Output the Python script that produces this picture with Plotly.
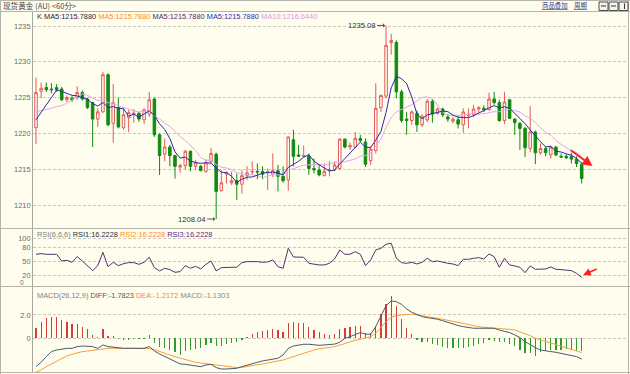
import plotly.graph_objects as go
import pandas as pd

# ---------------- data ----------------
opens = [1220.8, 1225.9, 1226.4, 1226.2, 1226.4, 1226.2, 1224.7, 1224.9, 1225.0, 1225.7,
         1224.8, 1224.3, 1222.0, 1223.0, 1228.2, 1221.4, 1223.6, 1220.8, 1222.2, 1222.7,
         1222.8, 1221.9, 1222.7, 1224.8, 1219.8, 1217.1, 1218.1, 1216.9, 1215.3, 1215.5,
         1217.5, 1215.4, 1215.4, 1214.7, 1216.1, 1217.1, 1212.0, 1214.3, 1213.1, 1213.4,
         1212.9, 1214.1, 1214.6, 1214.7, 1214.7, 1214.5, 1214.3, 1214.8, 1214.0, 1213.5,
         1219.1, 1217.0, 1216.8, 1216.8, 1215.1, 1214.9, 1214.1, 1214.8, 1214.9, 1215.1,
         1219.2, 1218.1, 1218.1, 1219.3, 1218.8, 1216.2, 1217.6, 1223.6, 1225.2, 1232.7,
         1232.7, 1225.8, 1222.0, 1221.8, 1222.8, 1221.2, 1221.9, 1224.5, 1222.8, 1223.4,
         1222.3, 1221.7, 1221.9, 1221.2, 1222.5, 1222.6, 1223.4, 1223.5, 1223.3, 1224.8,
         1224.3, 1221.8, 1224.7, 1222.0, 1221.4, 1220.7, 1217.9, 1220.2, 1217.3, 1217.9,
         1217.0, 1218.1, 1216.8, 1216.8, 1216.8, 1216.4, 1215.7]
highs = [1227.8, 1227.1, 1227.1, 1227.0, 1226.9, 1226.5, 1225.3, 1225.3, 1226.6, 1226.0,
         1225.0, 1224.4, 1223.5, 1228.6, 1228.4, 1226.9, 1225.0, 1223.6, 1223.3, 1223.4,
         1223.0, 1223.5, 1225.8, 1225.0, 1220.0, 1219.3, 1218.4, 1217.0, 1215.8, 1217.7,
         1217.6, 1216.3, 1215.6, 1216.4, 1218.0, 1217.3, 1214.9, 1214.7, 1214.7, 1214.4,
         1214.9, 1215.4, 1216.1, 1215.8, 1215.4, 1215.1, 1217.2, 1215.6, 1215.4, 1219.6,
         1220.5, 1218.4, 1218.3, 1217.2, 1216.5, 1215.6, 1215.8, 1216.1, 1216.1, 1219.3,
         1219.3, 1218.7, 1220.2, 1219.8, 1219.3, 1218.2, 1227.0, 1225.4, 1235.08, 1233.9,
         1233.0, 1226.1, 1223.0, 1223.2, 1223.2, 1222.7, 1224.8, 1224.8, 1223.6, 1223.6,
         1222.7, 1222.3, 1222.4, 1223.5, 1223.5, 1224.0, 1223.8, 1223.9, 1225.7, 1225.8,
         1224.7, 1225.8, 1224.8, 1222.1, 1221.6, 1220.9, 1223.8, 1220.4, 1218.6, 1218.2,
         1218.3, 1218.2, 1217.2, 1217.1, 1217.3, 1216.8, 1216.0]
lows = [1218.5, 1224.9, 1225.8, 1225.6, 1225.8, 1224.5, 1224.4, 1224.4, 1224.7, 1224.6,
        1223.4, 1218.1, 1220.9, 1222.9, 1221.0, 1218.7, 1220.7, 1220.5, 1220.2, 1221.5,
        1221.6, 1221.3, 1222.3, 1219.5, 1214.2, 1216.1, 1215.4, 1213.7, 1214.5, 1214.9,
        1214.7, 1214.9, 1214.7, 1214.5, 1215.8, 1208.04, 1211.9, 1213.0, 1212.8, 1210.7,
        1211.6, 1213.5, 1214.2, 1213.6, 1213.6, 1212.1, 1213.9, 1211.9, 1213.1, 1212.0,
        1215.4, 1216.7, 1216.6, 1214.2, 1214.4, 1214.0, 1214.0, 1214.0, 1214.7, 1214.9,
        1217.9, 1217.7, 1217.9, 1218.8, 1215.3, 1215.6, 1217.2, 1223.0, 1224.9, 1231.0,
        1224.9, 1221.5, 1219.8, 1221.2, 1220.2, 1220.9, 1221.6, 1221.5, 1222.6, 1222.3,
        1221.6, 1221.4, 1220.7, 1220.1, 1220.7, 1222.3, 1222.9, 1223.0, 1223.2, 1224.0,
        1221.6, 1221.3, 1222.0, 1219.8, 1217.7, 1216.7, 1217.4, 1215.7, 1217.0, 1216.8,
        1216.5, 1216.8, 1216.6, 1216.4, 1215.8, 1215.3, 1213.0]
closes = [1225.7, 1226.3, 1226.1, 1226.1, 1226.1, 1224.7, 1225.0, 1224.7, 1225.7, 1224.8,
          1223.6, 1222.0, 1223.0, 1228.2, 1221.2, 1224.3, 1220.9, 1222.6, 1222.9, 1222.8,
          1222.0, 1223.3, 1224.7, 1219.8, 1216.9, 1218.1, 1216.9, 1215.4, 1215.5, 1217.5,
          1215.4, 1215.9, 1214.8, 1215.9, 1217.2, 1211.9, 1213.1, 1214.5, 1213.4, 1212.9,
          1214.1, 1214.5, 1214.7, 1214.6, 1214.3, 1214.6, 1214.8, 1214.0, 1213.4, 1219.5,
          1216.8, 1216.8, 1216.9, 1215.1, 1214.9, 1214.2, 1214.7, 1214.9, 1215.6, 1219.2,
          1218.1, 1218.3, 1219.3, 1219.0, 1215.7, 1217.8, 1223.5, 1225.3, 1232.3, 1233.0,
          1225.8, 1221.8, 1221.8, 1223.0, 1221.2, 1222.4, 1224.5, 1222.7, 1223.4, 1222.6,
          1222.0, 1222.0, 1221.3, 1223.0, 1222.7, 1223.4, 1223.6, 1223.3, 1224.8, 1224.3,
          1221.8, 1224.4, 1222.1, 1221.5, 1220.7, 1218.0, 1220.2, 1217.3, 1217.9, 1217.3,
          1218.1, 1217.0, 1216.7, 1216.6, 1216.4, 1215.8, 1213.7]
# closes before the first visible bar (read back from the MA lines' starting levels)
prior_closes = [1224.8, 1224.5, 1224.0, 1223.8, 1223.4, 1221.5, 1220.5, 1221.0, 1220.8]

rsi = [65.7, 67.1, 65.7, 65.7, 65.7, 51.4, 52.9, 48.6, 60.7, 51.4,
       41.4, 30.7, 41.4, 70.0, 39.3, 48.6, 41.4, 45.7, 47.9, 47.9,
       44.3, 48.6, 59.3, 37.1, 30.0, 35.7, 32.9, 27.1, 28.6, 41.4,
       35.7, 40.0, 34.3, 44.3, 51.4, 30.0, 37.1, 37.9, 37.9, 37.9,
       47.9, 50.0, 50.7, 50.0, 48.6, 49.3, 53.6, 39.3, 35.7, 78.6,
       60.0, 60.0, 59.3, 46.4, 44.3, 42.9, 42.9, 46.4, 55.7, 75.0,
       65.7, 65.7, 71.4, 65.7, 41.4, 53.6, 75.0, 78.6, 87.1, 89.3,
       57.1, 47.9, 46.4, 48.6, 45.0, 48.6, 57.1, 50.0, 51.4, 48.6,
       46.4, 45.0, 41.4, 55.0, 55.0, 57.1, 58.6, 55.7, 66.4, 60.7,
       37.9, 57.1, 42.9, 40.7, 37.9, 26.4, 40.7, 33.6, 34.3, 34.3,
       38.6, 33.6, 32.9, 32.1, 30.7, 25.0, 16.2]

diff = [-2.43, -2.06, -1.57, -1.14, -1.0, -0.91, -0.86, -0.86, -0.71, -0.66,
        -0.71, -0.71, -0.86, -0.57, -0.71, -0.77, -0.86, -0.86, -0.86, -0.86,
        -0.86, -0.86, -0.71, -1.09, -1.34, -1.57, -1.77, -2.0, -2.2, -2.23,
        -2.29, -2.37, -2.43, -2.29, -2.23, -2.51, -2.63, -2.63, -2.63, -2.57,
        -2.43, -2.29, -2.14, -2.06, -1.94, -1.86, -1.77, -1.71, -1.43, -0.86,
        -0.66, -0.57, -0.51, -0.51, -0.57, -0.6, -0.57, -0.55, -0.5, -0.34,
        0.0, 0.14, 0.34, 0.49, 0.36, 0.34, 1.0, 1.86, 2.8, 3.2,
        3.14, 2.91, 2.51, 2.23, 2.06, 1.86, 1.77, 1.71, 1.63, 1.51,
        1.37, 1.2, 1.09, 1.0, 0.91, 0.86, 0.86, 0.86, 0.86, 0.86,
        0.71, 0.63, 0.49, 0.29, 0.06, -0.29, -0.57, -0.8, -1.0, -1.09,
        -1.14, -1.2, -1.29, -1.37, -1.43, -1.57, -1.78]
dea = [-2.9, -2.71, -2.43, -2.2, -1.94, -1.71, -1.51, -1.37, -1.23, -1.14,
       -1.09, -1.03, -1.0, -0.91, -0.86, -0.86, -0.86, -0.86, -0.86, -0.86,
       -0.86, -0.86, -0.86, -0.97, -1.14, -1.29, -1.43, -1.57, -1.71, -1.86,
       -1.94, -2.06, -2.11, -2.17, -2.2, -2.29, -2.34, -2.4, -2.46, -2.51,
       -2.49, -2.43, -2.37, -2.29, -2.2, -2.11, -2.0, -1.94, -1.86, -1.71,
       -1.57, -1.43, -1.29, -1.1, -1.0, -0.9, -0.86, -0.78, -0.71, -0.55,
       -0.45, -0.3, -0.2, -0.09, 0.0, 0.14, 0.43, 0.91, 1.43, 1.8,
       1.94, 2.0, 2.06, 2.06, 2.0, 1.94, 1.86, 1.77, 1.71, 1.63,
       1.54, 1.43, 1.34, 1.23, 1.14, 1.09, 1.0, 0.94, 0.91, 0.86,
       0.86, 0.84, 0.77, 0.71, 0.57, 0.43, 0.23, 0.0, -0.14, -0.29,
       -0.43, -0.57, -0.71, -0.86, -1.0, -1.09, -1.22]
macd = [0.86, 1.37, 1.71, 1.8, 1.8, 1.6, 1.37, 1.23, 1.2, 1.0,
        0.77, 0.29, 0.14, 0.77, 0.23, 0.17, -0.06, -0.11, -0.11, -0.09,
        -0.09, -0.06, 0.29, -0.43, -0.71, -0.8, -1.0, -1.14, -1.43, -1.09,
        -1.0, -0.9, -0.8, -0.57, -0.43, -0.63, -0.7, -0.5, -0.43, -0.29,
        -0.14, 0.14, 0.34, 0.57, 0.66, 0.71, 0.77, 0.71, 0.57, 1.29,
        1.37, 1.34, 1.29, 1.0, 0.74, 0.54, 0.34, 0.29, 0.34, 0.8,
        0.91, 1.0, 1.09, 1.06, 0.43, 0.49, 1.09, 2.06, 2.91, 3.63,
        2.8, 1.66, 0.86, 0.34, -0.14, -0.29, -0.34, -0.51, -0.57, -0.71,
        -0.8, -0.86, -0.8, -0.86, -0.71, -0.63, -0.51, -0.43, -0.14, -0.23,
        -0.34, -0.34, -0.51, -0.63, -1.0, -1.29, -1.29, -1.49, -1.14, -1.09,
        -1.0, -1.0, -1.0, -0.91, -1.0, -1.09, -1.13]

price_ticks = [1210, 1215, 1220, 1225, 1230, 1235]
rsi_ticks = [20, 50, 80, 100]
macd_ticks = [0, 2]
macd_tick_text = ["0", "2.0"]

title_text = "现货黄金 (AU) &lt;60分&gt;"
main_legend = [("K", "#333333"), ("MA5:1215.7880", "#222244"), ("MA5:1215.7880", "#ff8c1a"),
               ("MA5:1215.7880", "#4a2a70"), ("MA5:1215.7880", "#2a2ab0"), ("MA10:1216.6440", "#e294e2")]
rsi_legend = [("RSI(6,6,6)", "#808080"), ("RSI1:16.2228", "#203040"), ("RSI2:16.2228", "#ff8c1a"),
              ("RSI3:16.2228", "#5a2a8a")]
macd_legend = [("MACD(26,12,9)", "#808080"), ("DIFF:-1.7823", "#405870"), ("DEA:-1.2172", "#f08c1a"),
               ("MACD:-1.1303", "#8a8a8a")]
high_label, high_idx = "1235.08", 68
low_label, low_idx = "1208.04", 35

# ---------------- derived ----------------
idx = list(range(len(closes)))
full_close = pd.Series(prior_closes + closes)
n_prior = len(prior_closes)
ma5 = full_close.rolling(5).mean().iloc[n_prior:].tolist()
ma10 = full_close.rolling(10).mean().iloc[n_prior:].tolist()

# ---------------- layout geometry (pixels) ----------------
W, H = 630, 374
BG = "#fffdee"
FONT = "Liberation Sans, Arial, sans-serif"
CJK = "Noto Sans CJK SC, sans-serif"
GRID = "#c9c9c0"
AXC = "#a8a8a0"

def fx(px):
    return px / W

def fy(py):
    return 1 - py / H

X_L, X_R = 33, 626
STEP, X0C = 5.148, 36.0
xr = [(X_L - X0C) / STEP, (X_R - X0C) / STEP]

MAIN_T, MAIN_B = 12, 228
main_rng = [1235 - (MAIN_B - 26) / 7.16, 1235 + (26 - MAIN_T) / 7.16]
RSI_T, RSI_B = 229, 286
rsi_rng = [100 - (RSI_B - 238.3) / 0.4667, 100 + (238.3 - RSI_T) / 0.4667]
MACD_T, MACD_B = 287, 372.5
macd_rng = [(338.3 - MACD_B) / 11.67, (338.3 - MACD_T) / 11.67]

fig = go.Figure()

fig.add_trace(go.Candlestick(
    x=idx, open=opens, high=highs, low=lows, close=closes,
    increasing=dict(line=dict(color="#e35b5b", width=1), fillcolor=BG),
    decreasing=dict(line=dict(color="#128a12", width=1), fillcolor="#128a12"),
    whiskerwidth=0, xaxis="x", yaxis="y", hoverinfo="skip", showlegend=False))
fig.add_trace(go.Scatter(x=idx, y=ma10, mode="lines", line=dict(color="#e8a6e8", width=1),
                         xaxis="x", yaxis="y", hoverinfo="skip", showlegend=False))
fig.add_trace(go.Scatter(x=idx, y=ma5, mode="lines", line=dict(color="#2828b4", width=1),
                         xaxis="x", yaxis="y", hoverinfo="skip", showlegend=False))

fig.add_trace(go.Scatter(x=idx, y=rsi, mode="lines", line=dict(color="#54306e", width=1),
                         xaxis="x2", yaxis="y2", hoverinfo="skip", showlegend=False))

fig.add_trace(go.Bar(x=idx, y=macd, width=0.24,
                     marker=dict(color=["#d83a3a" if v >= 0 else "#2f9a2f" for v in macd], line=dict(width=0)),
                     xaxis="x3", yaxis="y3", hoverinfo="skip", showlegend=False))
fig.add_trace(go.Scatter(x=idx, y=dea, mode="lines", line=dict(color="#f2a03a", width=1),
                         xaxis="x3", yaxis="y3", hoverinfo="skip", showlegend=False))
fig.add_trace(go.Scatter(x=idx, y=diff, mode="lines", line=dict(color="#4a5a6a", width=1),
                         xaxis="x3", yaxis="y3", hoverinfo="skip", showlegend=False))

xcommon = dict(domain=[fx(X_L), fx(X_R)], range=xr, showgrid=False, zeroline=False,
               showticklabels=False, showline=False, ticks="", fixedrange=True)
ycommon = dict(showgrid=True, gridcolor=GRID, griddash="3px,2px", gridwidth=1, zeroline=False,
               showline=True, linecolor=AXC, linewidth=1, ticks="", fixedrange=True,
               tickfont=dict(family=FONT, size=7.4, color="#6a6a6a"))

fig.update_layout(
    width=W, height=H, margin=dict(l=0, r=0, t=0, b=0),
    paper_bgcolor=BG, plot_bgcolor=BG, showlegend=False, bargap=0,
    xaxis=dict(xcommon, anchor="y", rangeslider=dict(visible=False)),
    xaxis2=dict(xcommon, anchor="y2", matches="x"),
    xaxis3=dict(xcommon, anchor="y3", matches="x"),
    yaxis=dict(ycommon, domain=[fy(MAIN_B), fy(MAIN_T)], range=main_rng, anchor="x",
               tickvals=price_ticks),
    yaxis2=dict(ycommon, domain=[fy(RSI_B), fy(RSI_T)], range=rsi_rng, anchor="x2",
                tickvals=rsi_ticks),
    yaxis3=dict(ycommon, domain=[fy(MACD_B), fy(MACD_T)], range=macd_rng, anchor="x3",
                tickvals=macd_ticks, ticktext=macd_tick_text),
)

def legend_html(items):
    return "&nbsp;".join('<span style="color:%s">%s</span>' % (c, t) for t, c in items)

ann = []
def txt(x, y, text, size=7.4, color="#333", xanchor="left", family=FONT):
    ann.append(dict(xref="paper", yref="paper", x=fx(x), y=fy(y), text=text, showarrow=False,
                    xanchor=xanchor, yanchor="middle", font=dict(family=family, size=size, color=color)))

txt(1, 6, title_text, size=7.6, color="#444", family=CJK)
txt(35, 16.5, legend_html(main_legend))
txt(35, 234.5, legend_html(rsi_legend))
txt(35, 295.5, legend_html(macd_legend))
txt(26, 282.5, "0", size=6.6, color="#6a6a6a", xanchor="right")
txt(540, 6, "<u>商品叠加</u>", size=6.4, color="#1f3c8c", family=CJK)
txt(572, 6, "<u>周期</u>", size=6.4, color="#1f3c8c", family=CJK)

# high / low markers
ann.append(dict(xref="x", yref="y", x=high_idx, y=highs[high_idx], text=high_label, showarrow=True,
                ax=-9, ay=0, xanchor="right", arrowhead=1, arrowsize=0.7, arrowwidth=1,
                arrowcolor="#555", standoff=1, font=dict(family=FONT, size=7.6, color="#333")))
ann.append(dict(xref="x", yref="y", x=low_idx, y=lows[low_idx], text=low_label, showarrow=True,
                ax=-9, ay=0, xanchor="right", arrowhead=1, arrowsize=0.7, arrowwidth=1,
                arrowcolor="#555", standoff=1, font=dict(family=FONT, size=7.6, color="#333")))

# red hand-drawn trend arrows
last = len(closes) - 1
ann.append(dict(xref="x", yref="y", axref="x", ayref="y",
                x=last + 2.1, y=closes[last] + 1.75, ax=last - 2.4, ay=closes[last] + 4.1,
                text="", showarrow=True, arrowhead=2, arrowsize=1, arrowwidth=2, arrowcolor="#ff2020"))
ann.append(dict(xref="x2", yref="y2", axref="x2", ayref="y2",
                x=last + 0.3, y=rsi[last] + 5, ax=last + 3.2, ay=rsi[last] + 19.5,
                text="", showarrow=True, arrowhead=2, arrowsize=1, arrowwidth=1.5, arrowcolor="#ff2020"))

shapes = []
def hline(y, x0=0, x1=W, color="#b4b4ac"):
    shapes.append(dict(type="line", xref="paper", yref="paper", x0=fx(x0), x1=fx(x1), y0=fy(y), y1=fy(y),
                       line=dict(color=color, width=1)))

def vline(x, y0=0, y1=H, color="#b4b4ac"):
    shapes.append(dict(type="line", xref="paper", yref="paper", x0=fx(x), x1=fx(x), y0=fy(y0), y1=fy(y1),
                       line=dict(color=color, width=1)))

hline(0.5)
hline(11.5)
hline(228.5)
hline(286.5)
hline(372.5)
vline(628.5)
vline(0.5)

# small toolbar buttons at top-right
for bx in (599, 609, 619):
    shapes.append(dict(type="rect", xref="paper", yref="paper", x0=fx(bx), x1=fx(bx + 9),
                       y0=fy(10.5), y1=fy(2), line=dict(color="#4a4a4a", width=1), fillcolor="#f4f4ec"))
shapes.append(dict(type="line", xref="paper", yref="paper", x0=fx(601), x1=fx(606), y0=fy(6), y1=fy(6),
                   line=dict(color="#333", width=1)))
shapes.append(dict(type="line", xref="paper", yref="paper", x0=fx(611), x1=fx(616), y0=fy(6), y1=fy(6),
                   line=dict(color="#333", width=1)))
shapes.append(dict(type="line", xref="paper", yref="paper", x0=fx(624.5), x1=fx(624.5), y0=fy(9), y1=fy(3.5),
                   line=dict(color="#333", width=1)))

fig.update_layout(annotations=ann, shapes=shapes)

fig.write_html("out.html", config={"displayModeBar": False, "staticPlot": True},
               post_script="document.body.style.margin='0';document.body.style.overflow='hidden';")
